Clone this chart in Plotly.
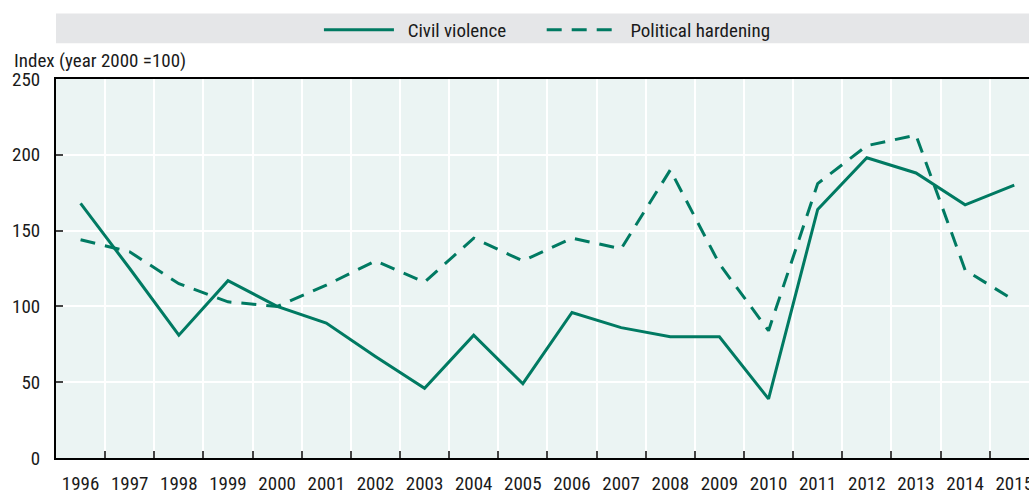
import plotly.graph_objects as go

years = [str(y) for y in range(1996, 2016)]
civil_violence = [168, 125, 81, 117, 100, 89, 67, 46, 81, 49, 96, 86, 80, 80, 39, 164, 198, 188, 167, 180]
political_hardening = [144, 136, 115, 103, 100, 114, 130, 116, 145, 130, 145, 138, 190, 128, 84, 181, 206, 213, 124, 104]

line_col = '#007a62'
font_fam = 'Liberation Sans Narrow, Arial Narrow, Roboto Condensed, sans-serif'
nb = '\u00a0'

fig = go.Figure()
fig.add_trace(go.Scatter(x=years, y=civil_violence, name=nb * 2 + 'Civil violence' + nb * 7, mode='lines',
                         line=dict(color=line_col, width=3)))
fig.add_trace(go.Scatter(x=years, y=political_hardening, name=nb * 2 + 'Political hardening', mode='lines',
                         line=dict(color=line_col, width=3, dash='15px,10px')))

# grey band behind the legend
fig.add_shape(type='rect', xref='paper', yref='paper', x0=0, x1=1.01, y0=1.094, y1=1.173,
              fillcolor='#e5e6e8', line_width=0, layer='below')

fig.update_layout(
    width=1029, height=491,
    margin=dict(l=56, r=0, t=79, b=33, autoexpand=False),
    paper_bgcolor='white',
    plot_bgcolor='#ebf4f3',
    font=dict(family=font_fam, size=19, color='#1a1a1a'),
    showlegend=True,
    legend=dict(orientation='h', xref='container', yref='container', x=0.532, xanchor='center',
                y=0.939, yanchor='middle', bgcolor='rgba(0,0,0,0)', font=dict(size=19),
                itemwidth=70),
    annotations=[dict(text='Index (year 2000 =100)', xref='paper', yref='paper', x=-0.0452, y=1.012,
                      xanchor='left', yanchor='bottom', showarrow=False, font=dict(size=19))],
)

fig.update_xaxes(type='category', range=[-0.5, 19.3], tickson='boundaries', automargin=False,
                 showgrid=True, gridcolor='white', gridwidth=1.5,
                 showline=True, linecolor='#000000', linewidth=2, mirror=True,
                 ticks='inside', ticklen=7, tickcolor='#444444', tickwidth=1.5,
                 ticklabelstandoff=7, zeroline=False)
fig.update_yaxes(range=[0, 250], dtick=50, automargin=False,
                 showgrid=True, gridcolor='white', gridwidth=1.5,
                 showline=True, linecolor='#000000', linewidth=2,
                 ticks='inside', ticklen=7, tickcolor='#444444', tickwidth=1.5,
                 ticklabelstandoff=10, zeroline=False)

# page body margin would shift the whole figure by 8px
fig.write_html("out.html", config={'displayModeBar': False},
               post_script="document.body.style.margin='0';")
